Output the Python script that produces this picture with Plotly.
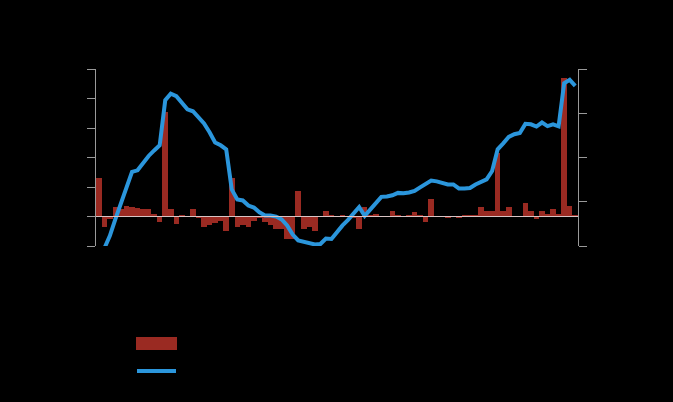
import plotly.graph_objects as go

# Monthly categories (87 months)
years = [2016 + k // 12 for k in range(87)]
months = [k % 12 + 1 for k in range(87)]
categories = [f"{y}-{m:02d}" for y, m in zip(years, months)]

# Monthly change (left axis, bars)
monthly_change = [
    1.29, -0.35, -0.10, 0.32, 0.25, 0.37, 0.32, 0.28, 0.24, 0.24, 0.08, -0.17,
    3.54, 0.24, -0.25, 0.06, 0.02, 0.27, -0.05, -0.36, -0.30, -0.22, -0.15, -0.50,
    1.32, -0.36, -0.28, -0.36, -0.14, -0.05, -0.20, -0.30, -0.42, -0.42, -0.76, -0.76,
    0.88, -0.42, -0.36, -0.50, 0.02, 0.17, 0.05, 0.03, 0.05, -0.02, -0.05, -0.44,
    0.32, 0.05, 0.09, 0.02, 0.01, 0.18, 0.05, 0.01, 0.04, 0.14, 0.05, -0.20,
    0.60, -0.02, 0.02, -0.05, 0.01, -0.05, 0.05, 0.05, 0.05, 0.32, 0.17, 0.20,
    2.16, 0.17, 0.32, 0.03, 0.00, 0.46, 0.17, -0.10, 0.20, 0.10, 0.26, 0.08,
    4.71, 0.35, 0.05,
]

# Annual change (right axis, line); first month has no value
annual_change = [
    None, -2.11, -1.54, -0.79, -0.04, 0.71, 1.35, 1.42, 1.78, 2.07, 2.32, 2.55,
    4.59, 4.88, 4.77, 4.45, 4.18, 4.09, 3.82, 3.54, 3.14, 2.68, 2.55, 2.37,
    0.56, 0.10, 0.06, -0.17, -0.26, -0.48, -0.62, -0.62, -0.67, -0.80, -1.07, -1.48,
    -1.75, -1.82, -1.87, -1.93, -1.91, -1.66, -1.68, -1.34, -1.07, -0.82, -0.53, -0.24,
    -0.64, -0.35, -0.03, 0.22, 0.24, 0.29, 0.40, 0.38, 0.42, 0.49, 0.65, 0.83,
    0.96, 0.92, 0.85, 0.78, 0.78, 0.60, 0.60, 0.62, 0.78, 0.92, 1.01, 1.39,
    2.37, 2.64, 2.93, 3.05, 3.11, 3.52, 3.50, 3.40, 3.58, 3.42, 3.50, 3.41,
    5.36, 5.51, 5.24,
]

tick_positions = [categories[k] for k in range(0, 87, 12)]
tick_labels = [str(2016 + k) for k in range(8)]

BAR_RED = "#9a2a22"
LINE_BLUE = "#2b96dc"
AXIS_GREY = "#9a9a9a"
TEXT = "#000000"

fig = go.Figure()
fig.add_trace(go.Bar(
    x=categories, y=monthly_change, name="Monthly change, % (lhs)",
    marker=dict(color=BAR_RED, line=dict(width=0)), yaxis="y",
))
fig.add_trace(go.Scatter(
    x=categories, y=annual_change, name="Annual change, % (rhs)",
    mode="lines", line=dict(color=LINE_BLUE, width=4), yaxis="y2",
    connectgaps=False,
))

fig.update_layout(
    width=673, height=402,
    margin=dict(l=96, r=95, t=69, b=156),
    paper_bgcolor="#000000", plot_bgcolor="#000000",
    font=dict(family="Liberation Sans, Arial", size=12, color=TEXT),
    bargap=0, showlegend=False,
    title=dict(text="Prices: monthly and annual change", x=0.02, y=0.97,
               font=dict(color=TEXT, size=16)),
    xaxis=dict(
        type="category", range=[-0.5, 86.5], showgrid=False, zeroline=False,
        showline=False, ticks="", tickmode="array",
        tickvals=tick_positions, ticktext=tick_labels,
        tickfont=dict(color=TEXT),
    ),
    yaxis=dict(
        range=[-1, 5], dtick=1, showgrid=False, zeroline=False,
        showline=True, linecolor=AXIS_GREY, linewidth=1,
        ticks="outside", ticklen=8, tickcolor=AXIS_GREY, tickwidth=1,
        tickfont=dict(color=TEXT),
    ),
    yaxis2=dict(
        range=[-2, 6], dtick=2, overlaying="y", side="right",
        showgrid=False, zeroline=False,
        showline=True, linecolor=AXIS_GREY, linewidth=1,
        ticks="outside", ticklen=8, tickcolor=AXIS_GREY, tickwidth=1,
        tickfont=dict(color=TEXT),
    ),
    shapes=[
        # zero reference line for the bars
        dict(type="line", xref="paper", x0=0, x1=1, yref="y", y0=0, y1=0,
             line=dict(color="#d8c4c4", width=1), layer="above"),
        # legend swatches
        dict(type="rect", xref="paper", yref="paper",
             x0=(136 - 96) / 482, x1=(177 - 96) / 482,
             y0=(246 - 350) / 177, y1=(246 - 337) / 177,
             fillcolor=BAR_RED, line=dict(width=0)),
        dict(type="line", xref="paper", yref="paper",
             x0=(137 - 96) / 482, x1=(176 - 96) / 482,
             y0=(246 - 371) / 177, y1=(246 - 371) / 177,
             line=dict(color=LINE_BLUE, width=4)),
    ],
    annotations=[
        dict(xref="paper", yref="paper", x=(186 - 96) / 482, y=(246 - 343.5) / 177,
             text="Monthly change, % (lhs)", showarrow=False, xanchor="left",
             yanchor="middle", font=dict(color=TEXT, size=12)),
        dict(xref="paper", yref="paper", x=(186 - 96) / 482, y=(246 - 371) / 177,
             text="Annual change, % (rhs)", showarrow=False, xanchor="left",
             yanchor="middle", font=dict(color=TEXT, size=12)),
    ],
)

page_fix = (
    "document.body.style.margin='0';"
    "document.body.style.padding='0';"
    "document.body.style.background='#000000';"
    "document.documentElement.style.background='#000000';"
    "document.body.style.overflow='hidden';"
)
fig.write_html("out.html", post_script=page_fix,
               config={"displayModeBar": False, "staticPlot": True})
